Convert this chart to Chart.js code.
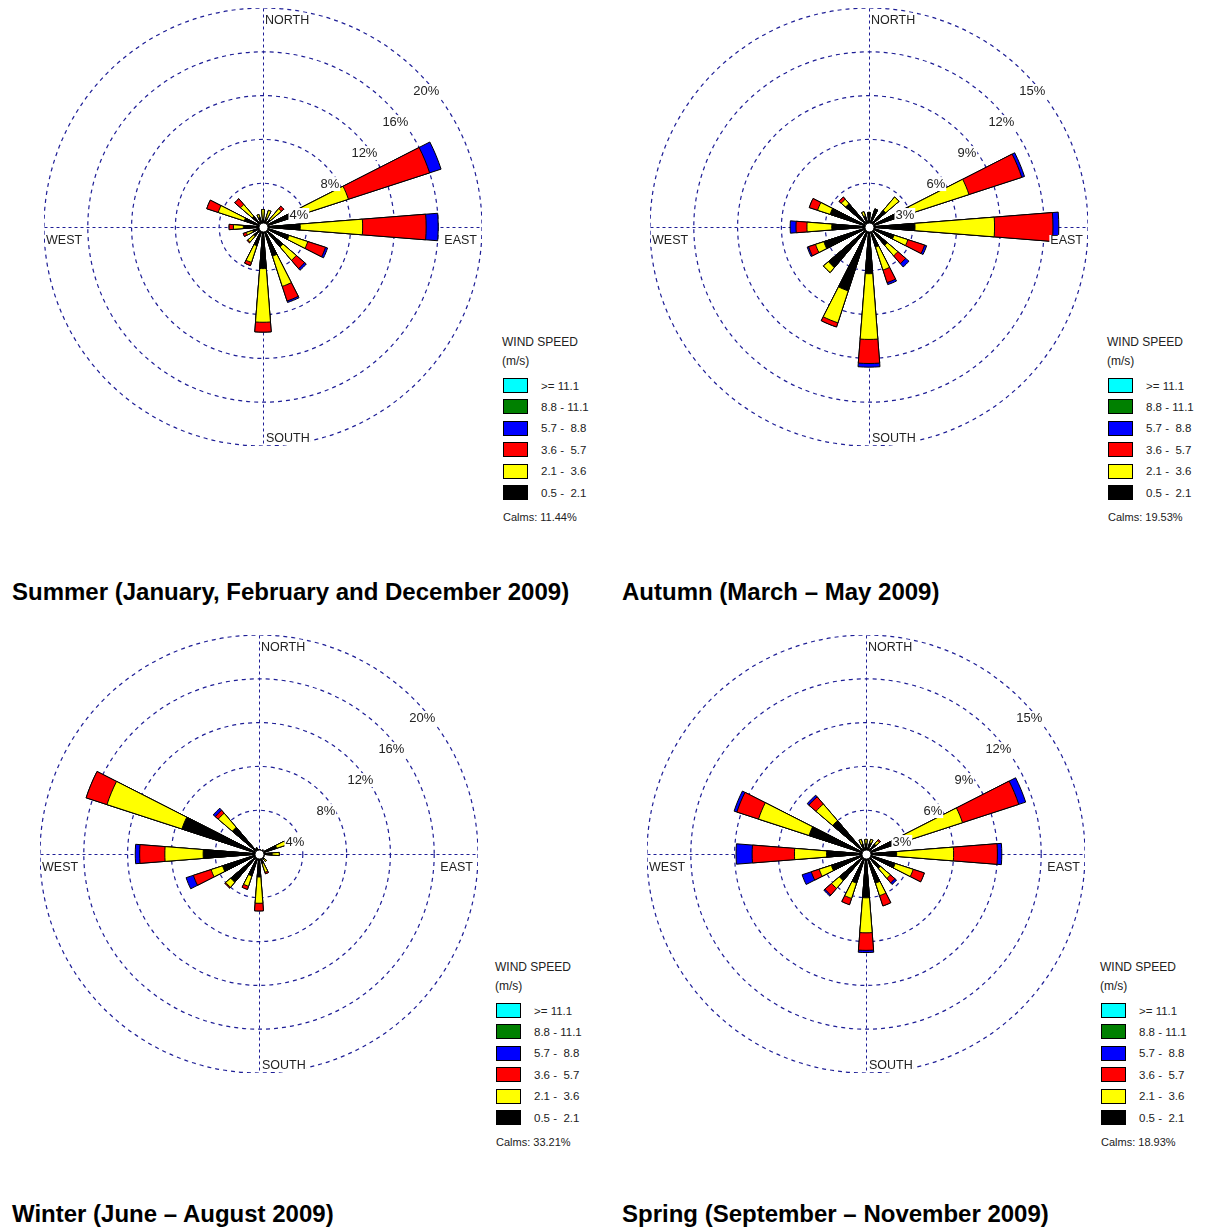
<!DOCTYPE html>
<html><head><meta charset="utf-8">
<script src="https://cdn.jsdelivr.net/npm/chart.js@4.4.1/dist/chart.umd.min.js"></script>
<style>
html,body{margin:0;padding:0;background:#fff;}
body{width:1209px;height:1229px;position:relative;overflow:hidden;font-family:"Liberation Sans",Arial,sans-serif;}
canvas.rose{position:absolute;}
.title{position:absolute;font-weight:bold;font-size:24px;line-height:28px;color:#000;white-space:nowrap;}
.lg{position:absolute;font-size:11.5px;color:#222;white-space:pre;line-height:14px;}
.box{position:absolute;width:25px;height:15px;box-sizing:border-box;border:1px solid #000;}
</style></head><body>
<script>
// ---------- DATA ----------
const directions = ['N','NNE','NE','ENE','E','ESE','SE','SSE','S','SSW','SW','WSW','W','WNW','NW','NNW'];
const speedLabels = ['>= 11.1','8.8 - 11.1','5.7 -  8.8','3.6 -  5.7','2.1 -  3.6','0.5 -  2.1'];
const speedLegendColors = ['#00ffff','#008000','#0000ff','#ff0000','#ffff00','#000000'];

// Summer (Jan, Feb, Dec 2009) — frequency (%) per speed class and direction
const summer_05_21 = [0.7,0.8,0.9,3.0,3.4,2.5,2.4,2.8,3.8,1.8,1.1,1.0,1.8,1.8,1.3,0.9];
const summer_21_36 = [0.9,0.8,1.3,5.2,5.7,1.8,1.6,2.9,4.9,1.6,0.7,0.6,0.9,2.5,1.4,0.3];
const summer_36_57 = [0,0,0.3,7.8,5.8,1.7,1.0,1.4,0.9,0.3,0.1,0.3,0.4,1.1,0.7,0];
const summer_57_88 = [0,0,0,1.1,1.1,0.2,0.2,0.15,0,0,0,0,0,0,0,0];
const summerTicks = [4,8,12,16,20];
const summerCalms = '11.44%';

// Autumn (Mar – May 2009)
const autumn_05_21 = [1.0,1.3,1.5,3.0,3.15,1.8,1.65,1.45,3.2,4.6,3.65,3.25,2.55,2.8,2.1,0.8];
const autumn_21_36 = [0,0,1.2,4.2,5.45,1.0,0.95,1.65,4.5,2.3,0.45,0.6,1.7,0.9,0.4,0.3];
const autumn_36_57 = [0,0,0,3.8,4.0,1.2,0.7,0.9,1.65,0.3,0,0.5,0.75,0.6,0.2,0];
const autumn_57_88 = [0,0,0,0.2,0.4,0.15,0.3,0.15,0.25,0,0,0.1,0.4,0,0,0];
const autumnTicks = [3,6,9,12,15];
const autumnCalms = '19.53%';

// Winter (Jun – Aug 2009)
const winter_05_21 = [0.4,0.4,0.5,1.7,1.2,0.5,0.6,0.9,2.1,2.1,3.4,3.5,5.1,7.4,3.2,0.6];
const winter_21_36 = [0,0,0,0.9,0.65,0,0.3,0.85,2.4,1.0,0.6,1.1,3.5,7.2,1.7,0];
const winter_36_57 = [0,0,0,0,0,0,0,0.15,0.7,0.3,0.1,1.7,2.3,2.0,0.35,0];
const winter_57_88 = [0,0,0,0,0,0,0,0,0,0,0,0.7,0.4,0,0.25,0];
const winterTicks = [4,8,12,16,20];
const winterCalms = '33.21%';

// Spring (Sep – Nov 2009)
const spring_05_21 = [0.7,0.8,0.9,2.9,2.1,2.1,1.3,2.1,3.0,2.1,2.4,2.5,2.7,4.1,3.0,0.7];
const spring_21_36 = [0.3,0.25,0.3,4.05,3.9,1.3,0.9,0.9,2.4,1.1,0.7,0.87,2.2,3.64,1.5,0.35];
const spring_36_57 = [0,0,0.1,4.05,3.0,0.8,0.4,0.74,1.2,0.45,0.6,0.57,2.9,1.56,0.65,0];
const spring_57_88 = [0,0,0,0.5,0.3,0,0.15,0,0.15,0,0.1,0.66,1.1,0.2,0.15,0];
const springTicks = [3,6,9,12,15];
const springCalms = '18.93%';

const classColors = ['#000000','#ffff00','#ff0000','#0000ff'];
const titles = ['Summer (January, February and December 2009)','Autumn (March \u2013 May 2009)','Winter (June \u2013 August 2009)','Spring (September \u2013 November 2009)'];

// ---------- LAYOUT ----------
const SIZE = 438;
const WEDGE = 9;
const GRID = 'rgb(30,30,150)';
const roses = [
  {cx:263, cy:227, classes:[summer_05_21,summer_21_36,summer_36_57,summer_57_88], ticks:summerTicks, calms:summerCalms, lx:502, ly:342, tx:12, ty:578},
  {cx:869, cy:227, classes:[autumn_05_21,autumn_21_36,autumn_36_57,autumn_57_88], ticks:autumnTicks, calms:autumnCalms, lx:1107, ly:342, tx:622, ty:578},
  {cx:259, cy:854, classes:[winter_05_21,winter_21_36,winter_36_57,winter_57_88], ticks:winterTicks, calms:winterCalms, lx:495, ly:967, tx:12, ty:1200},
  {cx:866, cy:854, classes:[spring_05_21,spring_21_36,spring_36_57,spring_57_88], ticks:springTicks, calms:springCalms, lx:1100, ly:967, tx:622, ty:1200}
];

const rosePlugin = {
  id:'rose',
  beforeDatasetsDraw(chart){
    const s = chart.scales.r, ctx = chart.ctx;
    const cx = s.xCenter + 0.5, cy = s.yCenter + 0.5, R = s.drawingArea;
    ctx.save();
    ctx.strokeStyle = GRID; ctx.lineWidth = 1; ctx.setLineDash([3,3]);
    ctx.beginPath();
    ctx.moveTo(cx, cy - R); ctx.lineTo(cx, cy + R);
    ctx.moveTo(cx - R, cy); ctx.lineTo(cx + R, cy);
    ctx.stroke();
    ctx.restore();
  },
  afterDatasetsDraw(chart){
    const s = chart.scales.r, ctx = chart.ctx;
    const cx = s.xCenter, cy = s.yCenter, R = s.drawingArea;
    const ticks = chart.options.plugins.rose.ticks;
    ctx.save();
    ctx.textBaseline = 'middle';
    ctx.font = '13px "Liberation Sans", Arial, sans-serif';
    ticks.forEach(v => {
      const r = s.getDistanceFromCenterForValue(v);
      const t = v + '%';
      const x = cx + r * Math.SQRT1_2 - 4.5;
      const y = cy - r * Math.SQRT1_2 + 19;
      const w = ctx.measureText(t).width;
      ctx.fillStyle = '#fff';
      ctx.fillRect(x - 1, y - 7, w + 2, 14);
      ctx.fillStyle = '#222';
      ctx.textAlign = 'left';
      ctx.fillText(t, x, y);
    });
    ctx.font = '12.5px "Liberation Sans", Arial, sans-serif';
    const lab = (t, x, y, align) => {
      ctx.textAlign = align;
      const w = ctx.measureText(t).width;
      const x0 = align === 'right' ? x - w : x;
      ctx.fillStyle = '#fff';
      ctx.fillRect(x0 - 1, y - 6, w + 2, 12);
      ctx.fillStyle = '#222';
      ctx.fillText(t, x, y);
    };
    lab('NORTH', cx + 2, cy - R + 13, 'left');
    lab('SOUTH', cx + 3, cy + R - 7, 'left');
    lab('EAST', cx + R - 5, cy + 14, 'right');
    lab('WEST', cx - R + 2, cy + 14, 'left');
    // calm circle
    ctx.beginPath();
    ctx.arc(cx + 0.5, cy + 0.5, 4.5, 0, Math.PI * 2);
    ctx.fillStyle = '#fff'; ctx.fill();
    ctx.strokeStyle = '#000'; ctx.lineWidth = 1; ctx.stroke();
    ctx.restore();
  }
};

function el(cls, x, y, text, extra){
  const d = document.createElement('div');
  d.className = cls;
  d.style.left = x + 'px'; d.style.top = y + 'px';
  if (text !== undefined) d.textContent = text;
  if (extra) Object.assign(d.style, extra);
  document.body.appendChild(d);
  return d;
}

roses.forEach((cfg, idx) => {
  const cv = document.createElement('canvas');
  cv.className = 'rose';
  cv.width = SIZE; cv.height = SIZE;
  cv.style.width = SIZE + 'px'; cv.style.height = SIZE + 'px';
  cv.style.left = (cfg.cx - SIZE / 2) + 'px';
  cv.style.top = (cfg.cy - SIZE / 2) + 'px';
  document.body.appendChild(cv);

  // slot labels: each direction followed by an empty gap slot
  const slotLabels = [];
  directions.forEach(d => { slotLabels.push(d); slotLabels.push(''); });

  // cumulative stacks
  const cum = directions.map(() => 0);
  const datasets = cfg.classes.map((arr, k) => {
    const data = [];
    arr.forEach((v, d) => { cum[d] += v; data.push(+cum[d].toFixed(3)); data.push(0); });
    return {
      label: speedLabels[5 - k],
      data,
      backgroundColor: classColors[k],
      borderColor: '#000',
      borderWidth: c => (c.index % 2 ? 0 : 1),
      angle: c => (c.index % 2 ? 22.5 - WEDGE : WEDGE)
    };
  });

  new Chart(cv, {
    type: 'polarArea',
    data: { labels: slotLabels, datasets },
    options: {
      responsive: false,
      animation: false,
      events: [],
      layout: { padding: 0 },
      plugins: { legend: { display: false }, tooltip: { enabled: false }, rose: { ticks: cfg.ticks } },
      scales: {
        r: {
          min: 0,
          max: cfg.ticks[cfg.ticks.length - 1],
          startAngle: -WEDGE / 2,
          ticks: { display: false, stepSize: cfg.ticks[0] },
          grid: { circular: true, color: GRID, lineWidth: 1.2 },
          border: { dash: [4, 4] },
          angleLines: { display: false },
          pointLabels: { display: false }
        }
      }
    },
    plugins: [rosePlugin]
  });

  // legend
  el('lg', cfg.lx, cfg.ly - 7, 'WIND SPEED', {fontSize:'12px'});
  el('lg', cfg.lx, cfg.ly + 12, '(m/s)', {fontSize:'12px'});
  speedLabels.forEach((t, i) => {
    const top = cfg.ly + 36 + i * 21.4;
    el('box', cfg.lx + 1, top, undefined, {background: speedLegendColors[i]});
    el('lg', cfg.lx + 39, top + 0.5, t);
  });
  el('lg', cfg.lx + 1, cfg.ly + 168, 'Calms: ' + cfg.calms, {fontSize:'11px'});

  el('title', cfg.tx, cfg.ty, titles[idx]);
});
</script>
</body></html>
